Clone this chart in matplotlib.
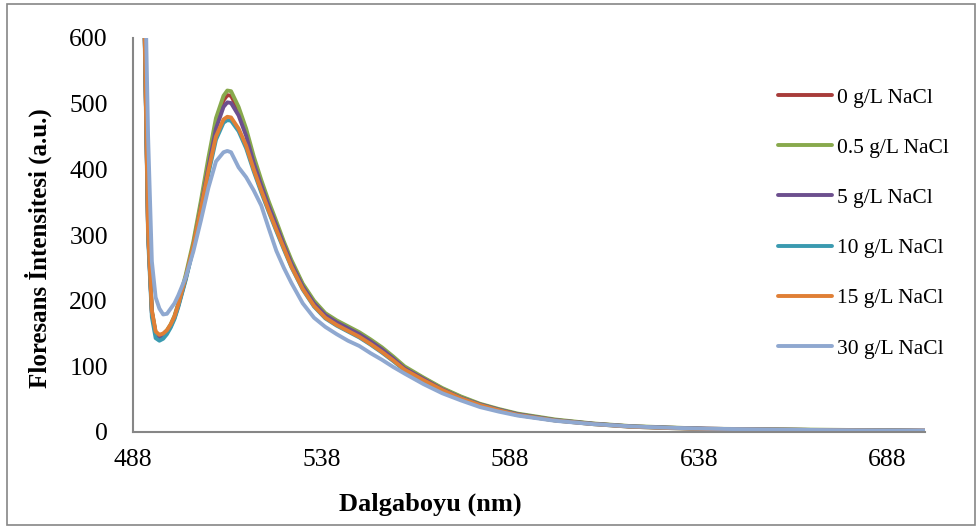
import matplotlib
matplotlib.use("Agg")
import matplotlib.pyplot as plt
from matplotlib.patches import Rectangle

# wavelength grid (nm)
wavelength = [488, 489, 490, 491, 492, 493, 494, 495, 496, 497, 498, 499, 500,
              502, 504, 506, 508, 510, 512, 513, 514,
              516, 518, 520, 522, 524, 526, 528, 530,
              533, 536, 539, 542, 545, 548, 551, 554, 557, 560,
              565, 570, 575, 580, 585, 590,
              600, 610, 620, 630, 640, 660, 680, 698]

# fluorescence intensity (a.u.) for each NaCl concentration
nacl_0 = [3000, 1800, 1000, 640, 305, 182, 150, 145, 147, 153, 162, 175, 193,
          236, 285, 346, 410, 470, 505, 513, 512,
          490, 457, 415, 380, 347, 317, 287, 259,
          224, 198, 179, 168, 159, 150, 139, 127, 113, 98,
          82, 66, 53, 42, 34, 27,
          18, 12.5, 8.5, 6.5, 5, 3.5, 2.5, 2]
nacl_05 = [3000, 1800, 1000, 640, 310, 185, 152, 147, 149, 155, 164, 177, 196,
           240, 290, 352, 418, 478, 512, 520, 519,
           495, 462, 420, 384, 351, 321, 290, 262,
           226, 200, 181, 170, 161, 152, 141, 129, 115, 100,
           83, 67, 54, 43, 35, 28,
           19, 13, 9, 7, 5, 4, 3, 2]
nacl_5 = [3000, 1800, 1000, 640, 305, 182, 149, 144, 146, 152, 161, 174, 192,
          234, 282, 342, 404, 462, 495, 502, 501,
          482, 451, 410, 376, 344, 315, 285, 257,
          222, 196, 178, 167, 158, 149, 138, 126, 112, 97,
          81, 65, 52, 42, 34, 27,
          18, 12.5, 8.5, 6.5, 5, 3.5, 2.5, 2]
nacl_10 = [3000, 1800, 1000, 630, 295, 175, 143, 139, 142, 149, 159, 172, 190,
           232, 280, 336, 393, 445, 471, 475, 474,
           458, 432, 397, 365, 335, 306, 278, 251,
           217, 191, 173, 162, 153, 144, 133, 121, 108, 94,
           78, 63, 51, 41, 33, 26,
           17.5, 12, 8, 6, 4.5, 3.5, 2.5, 1.5]
nacl_15 = [3000, 1800, 1000, 640, 305, 185, 153, 148, 150, 155, 164, 176, 194,
           236, 284, 340, 398, 450, 476, 480, 479,
           462, 436, 400, 368, 337, 308, 280, 252,
           218, 192, 174, 163, 154, 145, 134, 122, 109, 95,
           79, 64, 51, 41, 33, 26,
           17.5, 12, 8, 6, 4.5, 3.5, 2.5, 1.5]
nacl_30 = [3000, 2000, 1300, 750, 450, 260, 205, 188, 179, 180, 188, 196, 208,
           236, 275, 322, 372, 412, 426, 428, 426,
           403, 388, 368, 345, 310, 276, 250, 227,
           196, 174, 160, 149, 139, 131, 120, 110, 99, 89,
           73, 59, 48, 38, 31, 25,
           17, 12, 8.5, 6.5, 5, 3.5, 2.5, 2]

labels = ["0 g/L NaCl", "0.5 g/L NaCl", "5 g/L NaCl",
          "10 g/L NaCl", "15 g/L NaCl", "30 g/L NaCl"]
series = [nacl_0, nacl_05, nacl_5, nacl_10, nacl_15, nacl_30]
colors = ["#A83C3A", "#88A94C", "#6C4F8E", "#3A9AB0", "#E07F35", "#8FA8D0"]

x_ticks = [488, 538, 588, 638, 688]
y_ticks = [0, 100, 200, 300, 400, 500, 600]

plt.rcParams['font.family'] = ['Liberation Serif', 'DejaVu Serif']

fig = plt.figure(figsize=(9.8, 5.29), dpi=100)
ax = fig.add_axes([133 / 980, 1 - 432 / 529, 792 / 980, 394 / 529])

for y, lab, c in zip(series, labels, colors):
    ax.plot(wavelength, y, color=c, lw=2.8, label=lab, solid_capstyle='round')

ax.set_xlim(488, 698)
ax.set_ylim(0, 600)
ax.set_xticks(x_ticks)
ax.set_yticks(y_ticks)
ax.tick_params(axis='both', length=0, labelsize=18.5)
ax.tick_params(axis='x', pad=12)
ax.tick_params(axis='y', pad=18)

for side in ['top', 'right']:
    ax.spines[side].set_visible(False)
for side in ['left', 'bottom']:
    ax.spines[side].set_color('#868686')
    ax.spines[side].set_linewidth(1.5)

ax.set_ylabel('Floresans İntensitesi (a.u.)', fontsize=18, fontweight='bold')
ax.set_xlabel('Dalgaboyu (nm)', fontsize=19, fontweight='bold')
ax.yaxis.set_label_coords(-0.102, 0.467)
ax.xaxis.set_label_coords(0.375, -0.155)

fig.legend(loc='center left', bbox_to_anchor=(778 / 980, 1 - 223 / 529),
           frameon=False, fontsize=15.5, handlelength=2.5, handletextpad=0.25,
           labelspacing=1.4, borderpad=0, borderaxespad=0)

# outer chart border
fig.patches.append(Rectangle((7 / 980, 4 / 529), 968 / 980, 521 / 529,
                             transform=fig.transFigure, fill=False,
                             edgecolor='#868686', lw=1.2))

fig.savefig('out.png', dpi=100)
